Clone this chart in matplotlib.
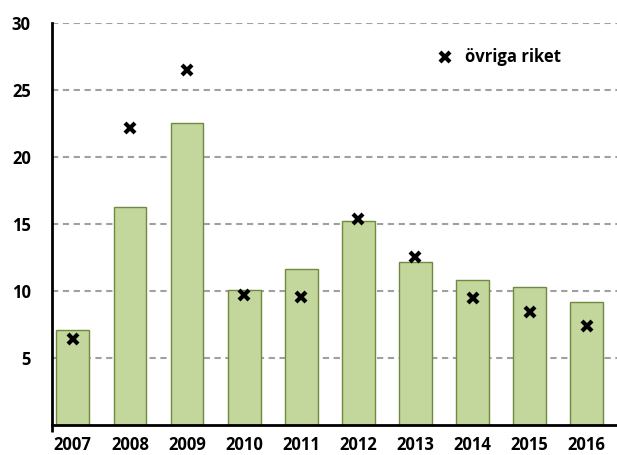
import matplotlib
matplotlib.use("Agg")
import matplotlib.pyplot as plt
import numpy as np

years = ["2007", "2008", "2009", "2010", "2011", "2012", "2013", "2014", "2015", "2016"]
bar_values = [7.1, 16.3, 22.55, 10.1, 11.6, 15.25, 12.15, 10.85, 10.3, 9.2]
ovriga_riket = [6.4, 22.2, 26.5, 9.7, 9.55, 15.35, 12.55, 9.5, 8.45, 7.4]
yticks = [5, 10, 15, 20, 25, 30]
legend_label = "övriga riket"

plt.rcParams['font.family'] = ['Open Sans', 'DejaVu Sans']

fig = plt.figure(figsize=(6.17, 4.55), dpi=100)
ax = fig.add_axes([51.7/617, 1-424.7/455, 1-51.7/617, (424.7-23.3)/455])

x = np.arange(len(years))
ax.bar(x, bar_values, width=0.575, color='#C3D69B', edgecolor='#6F8A3F', linewidth=1.0, zorder=2)
ax.plot(x, ovriga_riket, linestyle='none', marker='x', markersize=7.5, markeredgewidth=3,
        color='black', zorder=3, label=legend_label)

ax.set_xlim(-0.37, 9.53)
ax.set_ylim(0, 30)
ax.set_yticks(yticks)
ax.set_yticklabels([str(v) for v in yticks], fontsize=12, fontweight='bold')
ax.set_xticks(x)
ax.set_xticklabels(years, fontsize=12, fontweight='bold')
ax.tick_params(axis='y', length=0, pad=15)
ax.tick_params(axis='x', length=0, pad=8)
ax.set_xticks([-0.37], minor=True)
ax.tick_params(axis='x', which='minor', length=5, width=2, direction='out', color='black')

ax.grid(axis='y', color='#A0A0A0', linestyle=(0, (3, 2.2)), linewidth=1.5, zorder=0)
ax.set_axisbelow(True)
for s in ['top', 'right']:
    ax.spines[s].set_visible(False)
ax.spines['left'].set_linewidth(2)
ax.spines['bottom'].set_linewidth(2)
ax.spines['left'].set_zorder(4)
ax.spines['bottom'].set_zorder(4)

leg = ax.legend(loc='upper left', bbox_to_anchor=(0.652, 0.975), frameon=False,
                prop={'weight': 'bold', 'size': 12}, handletextpad=0.6, handlelength=1.2)

fig.savefig("out.png", dpi=100)
